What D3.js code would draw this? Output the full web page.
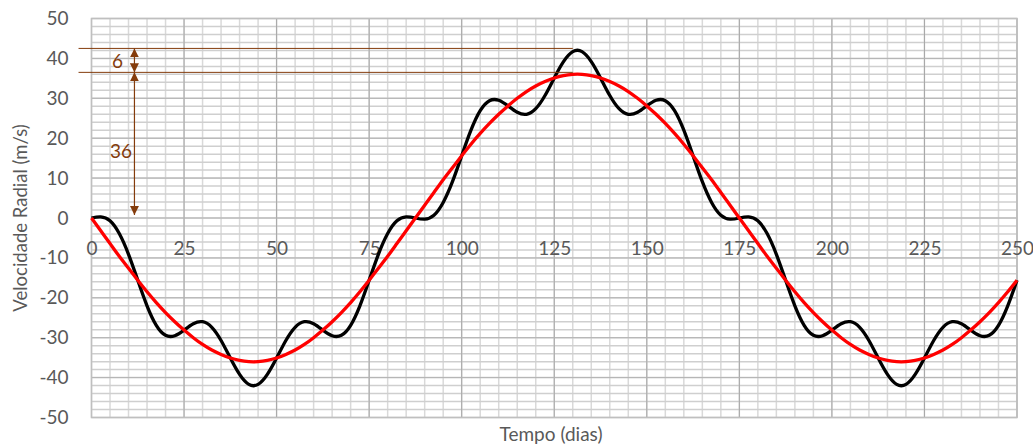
<!DOCTYPE html>
<html>
<head>
<meta charset="utf-8">
<script src="https://cdn.jsdelivr.net/npm/d3@7"></script>
<style>
  body { margin: 0; background: #fff; }
  svg { display: block; }
</style>
</head>
<body>
<svg id="chart" width="1033" height="446"></svg>
<script>
// Sample times (days)
const days = [
  0, 2.5, 5, 7.5, 10, 12.5, 15, 17.5, 20, 22.5, 25, 27.5, 30, 32.5, 35, 37.5, 40, 42.5, 45, 47.5,
  50, 52.5, 55, 57.5, 60, 62.5, 65, 67.5, 70, 72.5, 75, 77.5, 80, 82.5, 85, 87.5, 90, 92.5, 95, 97.5,
  100, 102.5, 105, 107.5, 110, 112.5, 115, 117.5, 120, 122.5, 125, 127.5, 130, 132.5, 135, 137.5, 140, 142.5, 145, 147.5,
  150, 152.5, 155, 157.5, 160, 162.5, 165, 167.5, 170, 172.5, 175, 177.5, 180, 182.5, 185, 187.5, 190, 192.5, 195, 197.5,
  200, 202.5, 205, 207.5, 210, 212.5, 215, 217.5, 220, 222.5, 225, 227.5, 230, 232.5, 235, 237.5, 240, 242.5, 245, 247.5,
  250
];

// Combined radial velocity of the star (m/s) – black curve
const velocityTotal = [
  0, 0.3, -0.7, -3.9, -9.1, -15.6, -22.0, -26.9, -29.4, -29.5, -28.1, -26.5, -26.0, -27.4, -30.7, -35.1, -39.2, -41.7,
  -41.7, -39.2, -35.1, -30.7, -27.4, -26.0, -26.5, -28.1, -29.5, -29.4, -26.9, -22.0, -15.6, -9.1, -3.9, -0.7, 0.3, 0,
  -0.3, 0.7, 3.9, 9.1, 15.6, 22.0, 26.9, 29.4, 29.5, 28.1, 26.5, 26.0, 27.4, 30.7, 35.1, 39.2, 41.7,
  41.7, 39.2, 35.1, 30.7, 27.4, 26.0, 26.5, 28.1, 29.5, 29.4, 26.9, 22.0, 15.6, 9.1, 3.9, 0.7, -0.3, 0,
  0.3, -0.7, -3.9, -9.1, -15.6, -22.0, -26.9, -29.4, -29.5, -28.1, -26.5, -26.0, -27.4, -30.7, -35.1, -39.2, -41.7,
  -41.7, -39.2, -35.1, -30.7, -27.4, -26.0, -26.5, -28.1, -29.5, -29.4, -26.9, -22.0, -15.6
];

// Radial velocity due to the large companion alone (m/s) – red curve
const velocityMain = [
  0, -3.2, -6.4, -9.6, -12.6, -15.6, -18.5, -21.2, -23.7, -26.0, -28.1, -30.0, -31.7, -33.1, -34.2, -35.1, -35.7, -36.0,
  -36.0, -35.7, -35.1, -34.2, -33.1, -31.7, -30.0, -28.1, -26.0, -23.7, -21.2, -18.5, -15.6, -12.6, -9.6, -6.4, -3.2, 0,
  3.2, 6.4, 9.6, 12.6, 15.6, 18.5, 21.2, 23.7, 26.0, 28.1, 30.0, 31.7, 33.1, 34.2, 35.1, 35.7, 36.0,
  36.0, 35.7, 35.1, 34.2, 33.1, 31.7, 30.0, 28.1, 26.0, 23.7, 21.2, 18.5, 15.6, 12.6, 9.6, 6.4, 3.2, 0,
  -3.2, -6.4, -9.6, -12.6, -15.6, -18.5, -21.2, -23.7, -26.0, -28.1, -30.0, -31.7, -33.1, -34.2, -35.1, -35.7, -36.0,
  -36.0, -35.7, -35.1, -34.2, -33.1, -31.7, -30.0, -28.1, -26.0, -23.7, -21.2, -18.5, -15.6
];

const xTickValues = [0, 25, 50, 75, 100, 125, 150, 175, 200, 225, 250];
const yTickValues = [-50, -40, -30, -20, -10, 0, 10, 20, 30, 40, 50];

// Amplitude markers: levels (m/s) and the labels between them
const amplitudeLevels = [42, 36, 0];
const amplitudeLabels = ["6", "36"];

const svg = d3.select("#chart");
const plot = { left: 91.5, right: 1017, top: 18.5, bottom: 417.5 };

const x = d3.scaleLinear().domain([0, 250]).range([plot.left, plot.right]);
const y = d3.scaleLinear().domain([-50, 50]).range([plot.bottom, plot.top]);

const font = "Lato, 'Open Sans', sans-serif";
const textGray = "#595959";
const brown = "#843C0C";

// Gridlines: minor every 5 days / 2 m/s, major every 25 days / 10 m/s
const grid = svg.append("g");
grid.selectAll("line.vminor").data(x.ticks(50)).join("line")
  .attr("x1", d => x(d)).attr("x2", d => x(d))
  .attr("y1", plot.top).attr("y2", plot.bottom)
  .attr("stroke", "#d9d9d9").attr("stroke-width", 1.5);
grid.selectAll("line.hminor").data(y.ticks(50)).join("line")
  .attr("x1", plot.left).attr("x2", plot.right)
  .attr("y1", d => y(d)).attr("y2", d => y(d))
  .attr("stroke", "#cfcfcf").attr("stroke-width", 1.5);
grid.selectAll("line.vmajor").data(xTickValues).join("line")
  .attr("x1", d => x(d)).attr("x2", d => x(d))
  .attr("y1", plot.top).attr("y2", plot.bottom)
  .attr("stroke", "#a6a6a6").attr("stroke-width", 1);
grid.selectAll("line.hmajor").data(yTickValues).join("line")
  .attr("x1", plot.left).attr("x2", plot.right)
  .attr("y1", d => y(d)).attr("y2", d => y(d))
  .attr("stroke", "#b3b3b3").attr("stroke-width", 1);
grid.append("rect")
  .attr("x", plot.left).attr("y", plot.top)
  .attr("width", plot.right - plot.left).attr("height", plot.bottom - plot.top)
  .attr("fill", "none").attr("stroke", "#bfbfbf").attr("stroke-width", 1.5);

// Axes (plain hyphen for negative numbers)
const plain = d => String(d);
const yAxis = svg.append("g")
  .attr("transform", `translate(${plot.left},0)`)
  .call(d3.axisLeft(y).tickValues(yTickValues).tickFormat(plain).tickSize(0).tickPadding(23));
const xAxis = svg.append("g")
  .attr("transform", `translate(0,${y(0)})`)
  .call(d3.axisBottom(x).tickValues(xTickValues).tickFormat(plain).tickSize(0).tickPadding(24));
[xAxis, yAxis].forEach(g => {
  g.select(".domain").remove();
  g.selectAll("text")
    .attr("fill", textGray)
    .style("font-family", font)
    .style("font-size", "19px");
});

// Axis titles
svg.append("text")
  .attr("x", 551).attr("y", 441)
  .attr("text-anchor", "middle")
  .attr("fill", textGray)
  .style("font-family", font).style("font-size", "19px")
  .text("Tempo (dias)");
svg.append("text")
  .attr("transform", `translate(27,${(plot.top + plot.bottom) / 2}) rotate(-90)`)
  .attr("text-anchor", "middle")
  .attr("fill", textGray)
  .style("font-family", font).style("font-size", "18.5px")
  .text("Velocidade Radial (m/s)");

// Curves
const series = days.map((d, i) => ({ t: d, total: velocityTotal[i], main: velocityMain[i] }));
const lineTotal = d3.line().x(d => x(d.t)).y(d => y(d.total)).curve(d3.curveNatural);
const lineMain = d3.line().x(d => x(d.t)).y(d => y(d.main)).curve(d3.curveNatural);

svg.append("path").datum(series)
  .attr("d", lineTotal)
  .attr("fill", "none").attr("stroke", "#000").attr("stroke-width", 3.3)
  .attr("stroke-linejoin", "round");
svg.append("path").datum(series)
  .attr("d", lineMain)
  .attr("fill", "none").attr("stroke", "#ff0000").attr("stroke-width", 3.3)
  .attr("stroke-linejoin", "round");

// Amplitude annotation
const defs = svg.append("defs");
defs.append("marker")
  .attr("id", "head").attr("viewBox", "0 0 10 10")
  .attr("refX", 10).attr("refY", 5)
  .attr("markerWidth", 9).attr("markerHeight", 9)
  .attr("markerUnits", "userSpaceOnUse")
  .attr("orient", "auto-start-reverse")
  .append("path").attr("d", "M0,0 L10,5 L0,10 Z").attr("fill", brown);

const ann = svg.append("g");
const lift = 2; // sit the reference lines on top of the curve stroke
ann.selectAll("line.level").data(amplitudeLevels.slice(0, 2)).join("line")
  .attr("x1", x(-3.5)).attr("x2", x(130))
  .attr("y1", d => y(d) - lift).attr("y2", d => y(d) - lift)
  .attr("stroke", brown).attr("stroke-width", 1);

const arrowX = x(11.6);
const spans = [
  { from: amplitudeLevels[0], to: amplitudeLevels[1], label: amplitudeLabels[0], lx: 7 },
  { from: amplitudeLevels[1], to: amplitudeLevels[2], label: amplitudeLabels[1], lx: 8 }
];
spans.forEach((s, i) => {
  const yTop = y(s.from) - lift;
  const yBot = i === 0 ? y(s.to) - lift : y(s.to) - 3;
  ann.append("line")
    .attr("x1", arrowX).attr("x2", arrowX)
    .attr("y1", yTop).attr("y2", yBot)
    .attr("stroke", brown).attr("stroke-width", 1.2)
    .attr("marker-start", "url(#head)").attr("marker-end", "url(#head)");
  ann.append("text")
    .attr("x", x(s.lx)).attr("y", i === 0 ? (yTop + yBot) / 2 : y(17))
    .attr("text-anchor", "middle").attr("dominant-baseline", "central")
    .attr("fill", brown)
    .style("font-family", font).style("font-size", "19px")
    .text(s.label);
});
</script>
</body>
</html>
